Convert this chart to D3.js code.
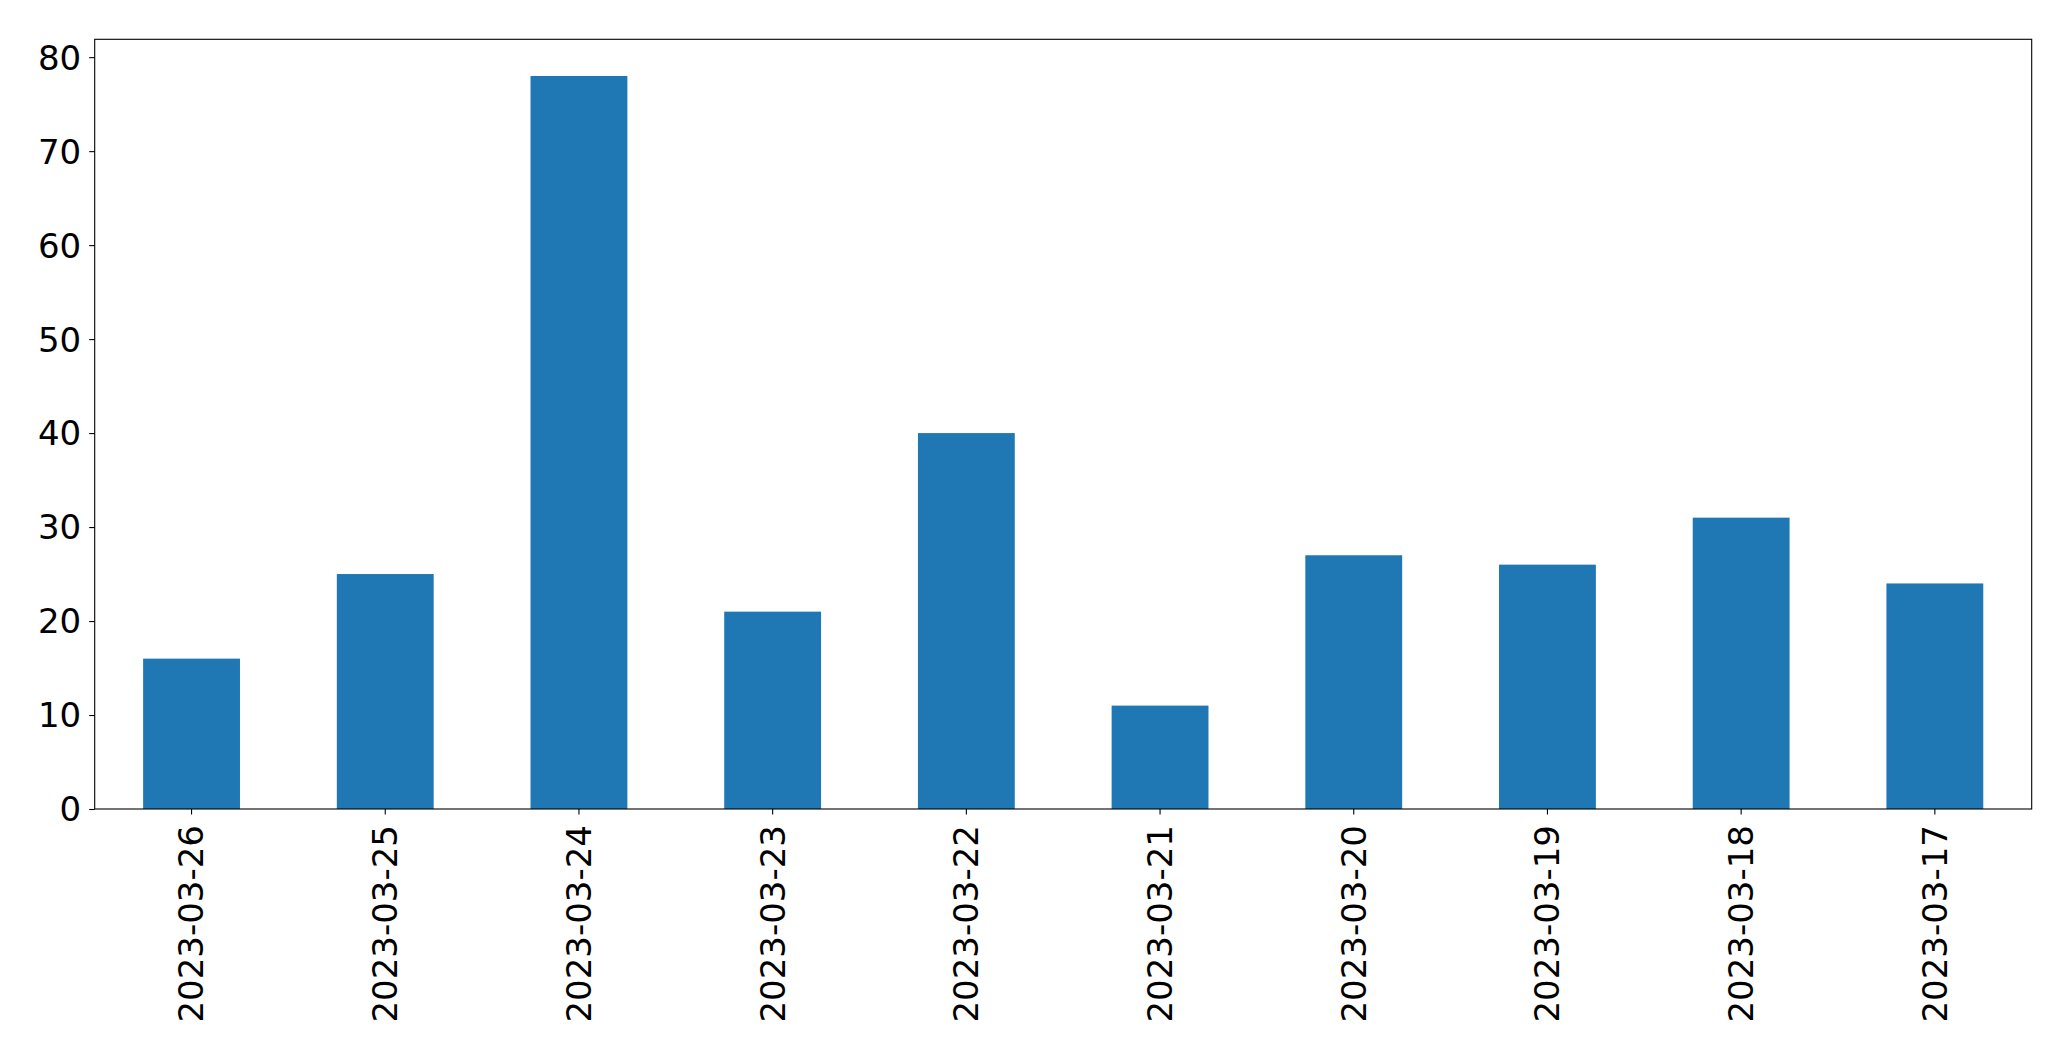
<!DOCTYPE html>
<html><head><meta charset="utf-8">
<script src="https://cdn.jsdelivr.net/npm/d3@7"></script>
<style>body{margin:0;background:#fff}svg{display:block}text{font-family:"DejaVu Sans",sans-serif;fill:#000}</style>
</head><body>
<script>
const categories = ["2023-03-26","2023-03-25","2023-03-24","2023-03-23","2023-03-22","2023-03-21","2023-03-20","2023-03-19","2023-03-18","2023-03-17"];
const values = [16,25,78,21,40,11,27,26,31,24];
const yTicks = [0,10,20,30,40,50,60,70,80];

const W = 2071, H = 1061;
const m = {left: 94.7, right: 2071-2031.7, top: 39.3, bottom: 1061-809};
const svg = d3.select("body").append("svg").attr("width", W).attr("height", H);
const x = d3.scaleBand().domain(categories).range([m.left, W-m.right]).paddingInner(0.5).paddingOuter(0.25);
const y = d3.scaleLinear().domain([0, d3.max(values)*1.05]).range([H-m.bottom, m.top]);

svg.append("g").selectAll("rect").data(values).join("rect")
  .attr("x", (d,i)=>x(categories[i])).attr("width", x.bandwidth())
  .attr("y", d=>y(d)).attr("height", d=>y(0)-y(d)).attr("fill", "#1f77b4");

const fs = "34px";
const ya = svg.append("g").attr("transform", `translate(${m.left},0)`)
  .call(d3.axisLeft(y).tickValues(yTicks).tickSize(5.5).tickPadding(8).tickFormat(d3.format("d")));
ya.select(".domain").remove();
ya.selectAll("line").attr("stroke","#000").attr("stroke-width",1.1);
ya.selectAll("text").style("font-size", fs).attr("dy","0.35em");

const xa = svg.append("g").attr("transform", `translate(0,${H-m.bottom})`)
  .call(d3.axisBottom(x).tickSize(5.5).tickPadding(0));
xa.select(".domain").remove();
xa.selectAll("line").attr("stroke","#000").attr("stroke-width",1.1);
xa.selectAll("text").style("font-size", fs)
  .attr("text-anchor","end").attr("dy","0.35em").attr("y",0)
  .attr("transform","translate(0,16) rotate(-90)");

svg.append("rect").attr("x", m.left).attr("y", m.top)
  .attr("width", W-m.left-m.right).attr("height", H-m.top-m.bottom)
  .attr("fill","none").attr("stroke","#000").attr("stroke-width",1.1);
</script>
</body></html>
